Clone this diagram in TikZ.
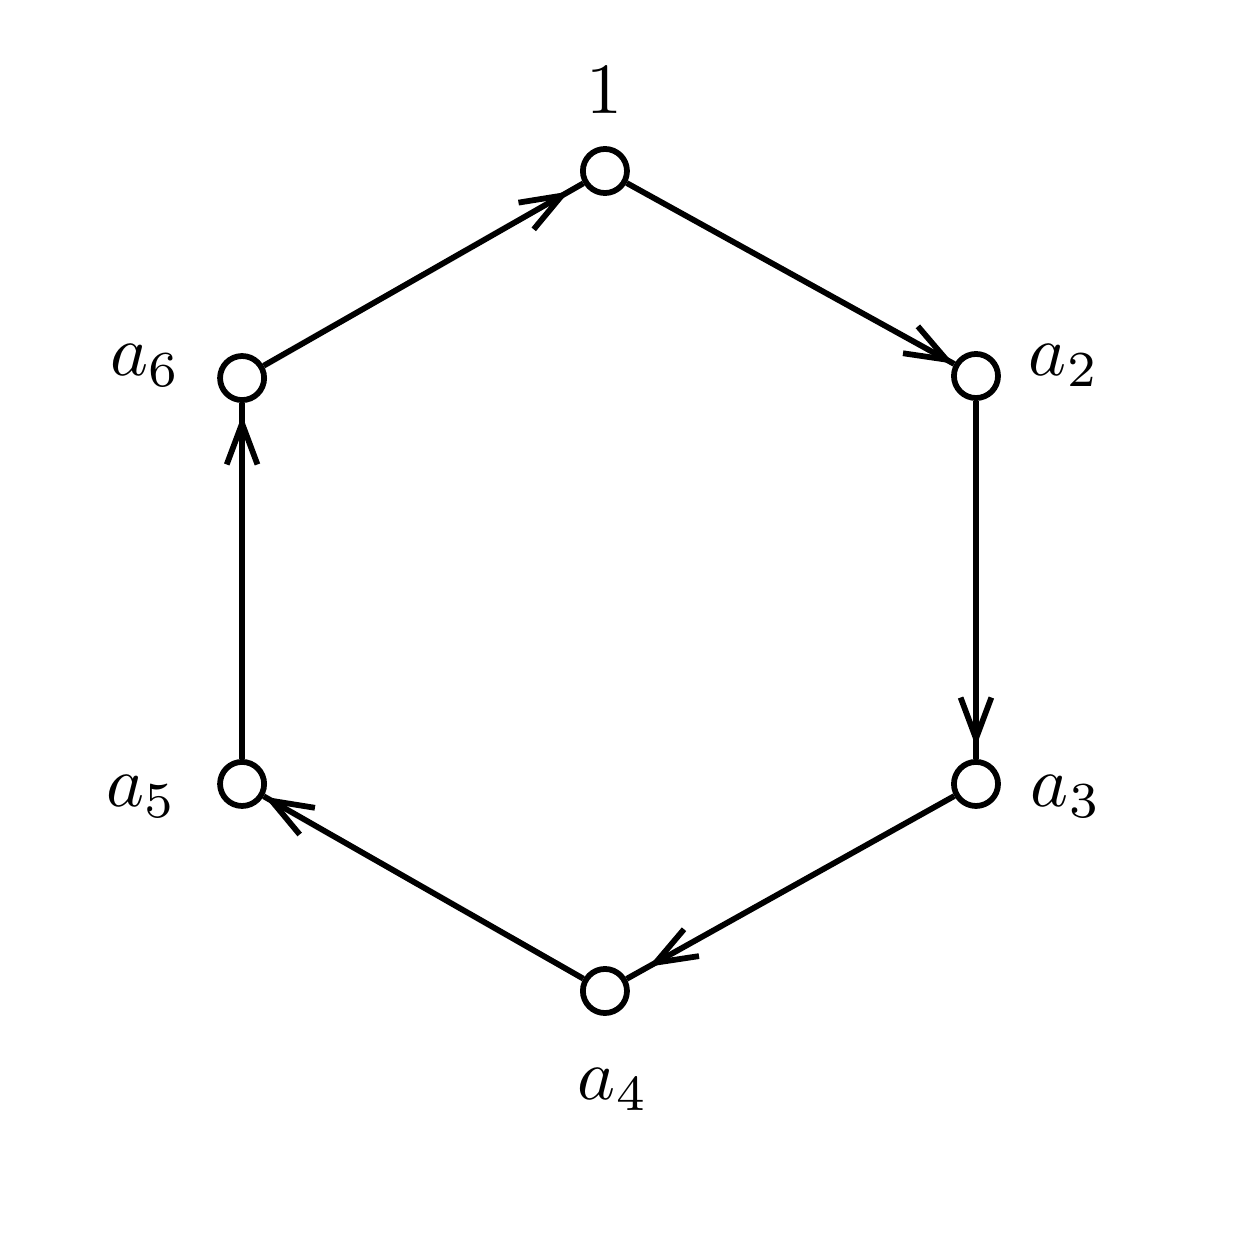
\documentclass[tikz,border=0pt]{standalone}
\usetikzlibrary{arrows.meta,decorations.markings}
\begin{document}
\begin{tikzpicture}
\tikzstyle{every node}+=[inner sep=0pt]
\tikzstyle{vertex}=[draw=black,thick,circle,minimum size=2.15mm]
\tikzset{edge/.style={black,thick,postaction=decorate,decoration={markings,mark=at position -#1 with {\arrow{Straight Barb[length=2mm,width=1.5mm]}}}}}
\useasboundingbox (-2.951,-3.283) rectangle (3.166,2.834);
\node[vertex] (n1) at (0,2) {};
\node[vertex] (n2) at (1.81,1) {};
\node[vertex] (n3) at (1.81,-0.99) {};
\node[vertex] (n4) at (0,-2) {};
\node[vertex] (n5) at (-1.77,-0.99) {};
\node[vertex] (n6) at (-1.77,0.99) {};
\node (l1) at ([shift={(0,0.395)}]n1) {$1$};
\node (l2) at ([shift={(0.43,0.05)}]n2) {$a_2$};
\node (l3) at ([shift={(0.44,-0.06)}]n3) {$a_3$};
\node (l4) at ([shift={(0.04,-0.48)}]n4) {$a_4$};
\node (l5) at ([shift={(-0.49,-0.06)}]n5) {$a_5$};
\node (l6) at ([shift={(-0.47,0.06)}]n6) {$a_6$};
\draw[edge=0.1pt] (n1) -- (n2);
\draw[edge=0.6mm] (n2) -- (n3);
\draw[edge=1.2mm] (n3) -- (n4);
\draw[edge=0.1pt] (n4) -- (n5);
\draw[edge=0.6mm] (n5) -- (n6);
\draw[edge=0.8mm] (n6) -- (n1);
\end{tikzpicture}
\end{document}
